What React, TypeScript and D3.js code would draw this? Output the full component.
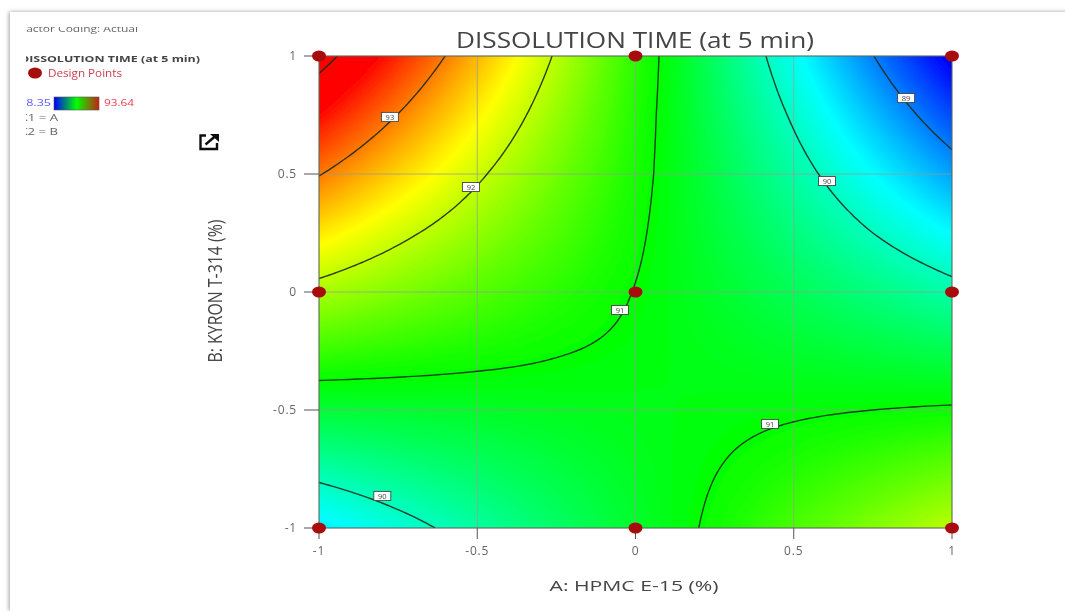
import React, { useMemo } from 'react';
import * as d3 from 'd3';

// values estimated from the colours and contour positions of the picture
const gridX = [-1, -0.75, -0.5, -0.25, 0, 0.25, 0.5, 0.75, 1];
const gridY = [1, 0.75, 0.5, 0.25, 0, -0.25, -0.5, -0.75, -1];
const response = [
    [94.17, 93.44, 92.70, 91.96, 91.22, 90.48, 89.74, 89.01, 88.27],
    [93.60, 92.99, 92.38, 91.77, 91.16, 90.55, 89.95, 89.34, 88.73],
    [93.02, 92.54, 92.06, 91.58, 91.11, 90.63, 90.15, 89.67, 89.19],
    [92.44, 92.09, 91.75, 91.40, 91.05, 90.70, 90.35, 90.00, 89.66],
    [91.87, 91.65, 91.43, 91.21, 90.99, 90.77, 90.55, 90.34, 90.12],
    [91.29, 91.20, 91.11, 91.02, 90.94, 90.85, 90.76, 90.67, 90.58],
    [90.71, 90.75, 90.79, 90.84, 90.88, 90.92, 90.96, 91.00, 91.04],
    [90.13, 90.31, 90.48, 90.65, 90.82, 90.99, 91.16, 91.33, 91.51],
    [89.56, 89.86, 90.16, 90.46, 90.76, 91.06, 91.37, 91.67, 91.97],
];

const colorStops = [88.35, 89.67, 90.99, 92.32, 93.64];
const colorNames = ['#0000ff', '#00ffff', '#00ff00', '#ffff00', '#ff0000'];
const contourLevels = [89, 90, 91, 92, 93, 94];

const xTicks = [-1, -0.5, 0, 0.5, 1];
const yTicks = [-1, -0.5, 0, 0.5, 1];
const gridTicks = [-0.5, 0, 0.5];

const designA = [-1, 0, 1, -1, 0, 1, -1, 0, 1];
const designB = [1, 1, 1, 0, 0, 0, -1, -1, -1];

const labelText = ['93', '92', '89', '90', '91', '91', '90'];
const labelA = [-0.776, -0.52, 0.855, 0.605, -0.049, 0.425, -0.80];
const labelB = [0.742, 0.445, 0.822, 0.47, -0.076, -0.559, -0.864];

const legendStops = ['#0000ff', '#00ff00', '#c8200f'];

const font = "'Open Sans', sans-serif";
const textGray = '#666';
const n = 129;

const x = d3.scaleLinear().domain([-1, 1]).range([319, 952]);
const y = d3.scaleLinear().domain([-1, 1]).range([528, 56]);
const color = d3.scaleLinear<string>().domain(colorStops).range(colorNames).clamp(true);
const posX = d3.scaleLinear().domain(gridX).range(d3.range(gridX.length));
const posY = d3.scaleLinear().domain(gridY.slice().reverse()).range(d3.range(gridY.length).reverse());

// bilinear lookup in the table
function lookup(a: number, b: number) {
    const fx = posX(a), fy = posY(b);
    const i = Math.min(Math.floor(fx), gridX.length - 2);
    const j = Math.min(Math.floor(fy), gridY.length - 2);
    const u = fx - i, v = fy - j;
    return (1 - v) * ((1 - u) * response[j][i] + u * response[j][i + 1])
        + v * ((1 - u) * response[j + 1][i] + u * response[j + 1][i + 1]);
}

export default function App() {
    const { bands, lines } = useMemo(() => {
        const toA = d3.scaleLinear().domain([0, n - 1]).range([-1, 1]);
        const toB = d3.scaleLinear().domain([0, n - 1]).range([1, -1]);
        const field: number[] = [];
        for (let j = 0; j < n; j++) {
            for (let i = 0; i < n; i++) field.push(lookup(toA(i), toB(j)));
        }
        const gx = d3.scaleLinear().domain([0.5, n - 0.5]).range([x(-1), x(1)]);
        const gy = d3.scaleLinear().domain([0.5, n - 0.5]).range([y(1), y(-1)]);
        const path = d3.geoPath(d3.geoTransform({
            point(px: number, py: number) {
                (this as any).stream.point(gx(px), gy(py));
            }
        }));
        const contours = d3.contours().size([n, n]);
        const step = 0.02;
        const bands = d3.range(88.2, 93.7, step).map(t => ({
            fill: color(t + step / 2),
            d: path(contours.contour(field, t) as any) || ''
        }));
        const lines = contourLevels.map(t => path(contours.contour(field, t) as any) || '');
        return { bands, lines };
    }, []);

    return (
        <svg width={1065} height={611} style={{ position: 'absolute', left: 0, top: 0, background: '#fff' }}>
            <defs>
                <clipPath id="plotClip">
                    <rect x={x(-1)} y={y(1)} width={x(1) - x(-1)} height={y(-1) - y(1)} />
                </clipPath>
                <clipPath id="sideClip">
                    <rect x={26} y={27} width={220} height={130} />
                </clipPath>
                <linearGradient id="legendGrad">
                    {legendStops.map((c, i) => (
                        <stop key={i} offset={i / (legendStops.length - 1)} stopColor={c} />
                    ))}
                </linearGradient>
                <filter id="soft" x="-2%" y="-2%" width="104%" height="104%">
                    <feGaussianBlur stdDeviation="0.45" />
                </filter>
                <filter id="cardShadow" x="-5%" y="-5%" width="110%" height="110%">
                    <feDropShadow dx={-1} dy={0} stdDeviation={2.2} floodColor="#777" floodOpacity={0.7} />
                </filter>
            </defs>

            <rect x={10} y={12} width={1075} height={599} fill="#fff" filter="url(#cardShadow)" />

            <g filter="url(#soft)">
                <g clipPath="url(#plotClip)">
                    <rect x={x(-1)} y={y(1)} width={x(1) - x(-1)} height={y(-1) - y(1)} fill={color(88.2)} />
                    {bands.map((b, i) => <path key={i} d={b.d} fill={b.fill} />)}
                    {gridTicks.map(t => (
                        <line key={'gx' + t} x1={x(t)} x2={x(t)} y1={y(-1)} y2={y(1)} stroke="#999" strokeOpacity={0.75} />
                    ))}
                    {gridTicks.map(t => (
                        <line key={'gy' + t} x1={x(-1)} x2={x(1)} y1={y(t)} y2={y(t)} stroke="#999" strokeOpacity={0.75} />
                    ))}
                    {lines.map((d, i) => (
                        <path key={i} d={d} fill="none" stroke="#1c2a1c" strokeOpacity={0.9} strokeWidth={1.4} />
                    ))}
                </g>
                <rect x={x(-1)} y={y(1)} width={x(1) - x(-1)} height={y(-1) - y(1)} fill="none" stroke="#5a6a5a" strokeWidth={1.1} />

                {yTicks.map(t => (
                    <g key={'yt' + t}>
                        <line x1={304} x2={x(-1)} y1={y(t)} y2={y(t)} stroke="#555" />
                        <text x={297} y={y(t) + 4} textAnchor="end" fontFamily={font} fontSize={12} letterSpacing={0.8} fill={textGray}>{t}</text>
                    </g>
                ))}
                {xTicks.map(t => (
                    <g key={'xt' + t}>
                        <line x1={x(t)} x2={x(t)} y1={y(-1)} y2={539} stroke="#555" />
                        <text x={x(t)} y={555} textAnchor="middle" fontFamily={font} fontSize={12} letterSpacing={0.8} fill={textGray}>{t}</text>
                    </g>
                ))}

                {labelText.map((s, i) => (
                    <g key={i} transform={`translate(${x(labelA[i])},${y(labelB[i])})`}>
                        <rect x={-8.5} y={-4.5} width={17} height={9} fill="#fff" stroke="#444" strokeWidth={0.9} />
                        <text y={2.7} textAnchor="middle" fontFamily={font} fontSize={7.5} fill="#444">{s}</text>
                    </g>
                ))}

                {designA.map((a, i) => (
                    <ellipse key={i} cx={x(a)} cy={y(designB[i])} rx={7} ry={5.5} fill="#a80c0c" />
                ))}

                <text x={635} y={48} textAnchor="middle" fontFamily={font} fontSize={21} fill="#444"
                    textLength={358} lengthAdjust="spacingAndGlyphs">DISSOLUTION TIME  (at 5 min)</text>
                <text x={634} y={591} textAnchor="middle" fontFamily={font} fontSize={15} fill="#444"
                    textLength={169} lengthAdjust="spacingAndGlyphs">A: HPMC E-15 (%)</text>
                <text transform="translate(222,291) rotate(-90)" textAnchor="middle" fontFamily={font} fontSize={20} fill="#444"
                    textLength={143} lengthAdjust="spacingAndGlyphs">B: KYRON T-314 (%)</text>

                <g clipPath="url(#sideClip)" fontFamily={font}>
                    <text x={20} y={32} fontSize={9.5} fill="#666" textLength={118} lengthAdjust="spacingAndGlyphs">Factor Coding: Actual</text>
                    <text x={20} y={62} fontSize={9.5} fontWeight={700} fill="#444" textLength={180} lengthAdjust="spacingAndGlyphs">DISSOLUTION TIME  (at 5 min)</text>
                    <ellipse cx={35} cy={73} rx={7} ry={5.5} fill="#a80c0c" />
                    <text x={48} y={76.5} fontSize={10} fill="#c8404e" textLength={74} lengthAdjust="spacingAndGlyphs">Design Points</text>
                    <text x={19} y={106} fontSize={9.5} fill="#5a5aff" textLength={32} lengthAdjust="spacingAndGlyphs">88.35</text>
                    <rect x={54} y={97} width={45} height={13} fill="url(#legendGrad)" stroke="#555" strokeWidth={0.6} />
                    <text x={104} y={106} fontSize={9.5} fill="#f03a4a" textLength={30} lengthAdjust="spacingAndGlyphs">93.64</text>
                    <text x={20} y={120.5} fontSize={9} fill="#666" textLength={38} lengthAdjust="spacingAndGlyphs">X1 = A</text>
                    <text x={20} y={135} fontSize={9} fill="#666" textLength={38} lengthAdjust="spacingAndGlyphs">X2 = B</text>
                </g>

                <g fill="none" stroke="#111" strokeWidth={2.4}>
                    <path d="M206 135.5H200.5V149H217V143" />
                    <path d="M205.5 144.5L215.5 136" />
                </g>
                <path d="M210 134H219V142Z" fill="#111" />
            </g>
        </svg>
    );
}
